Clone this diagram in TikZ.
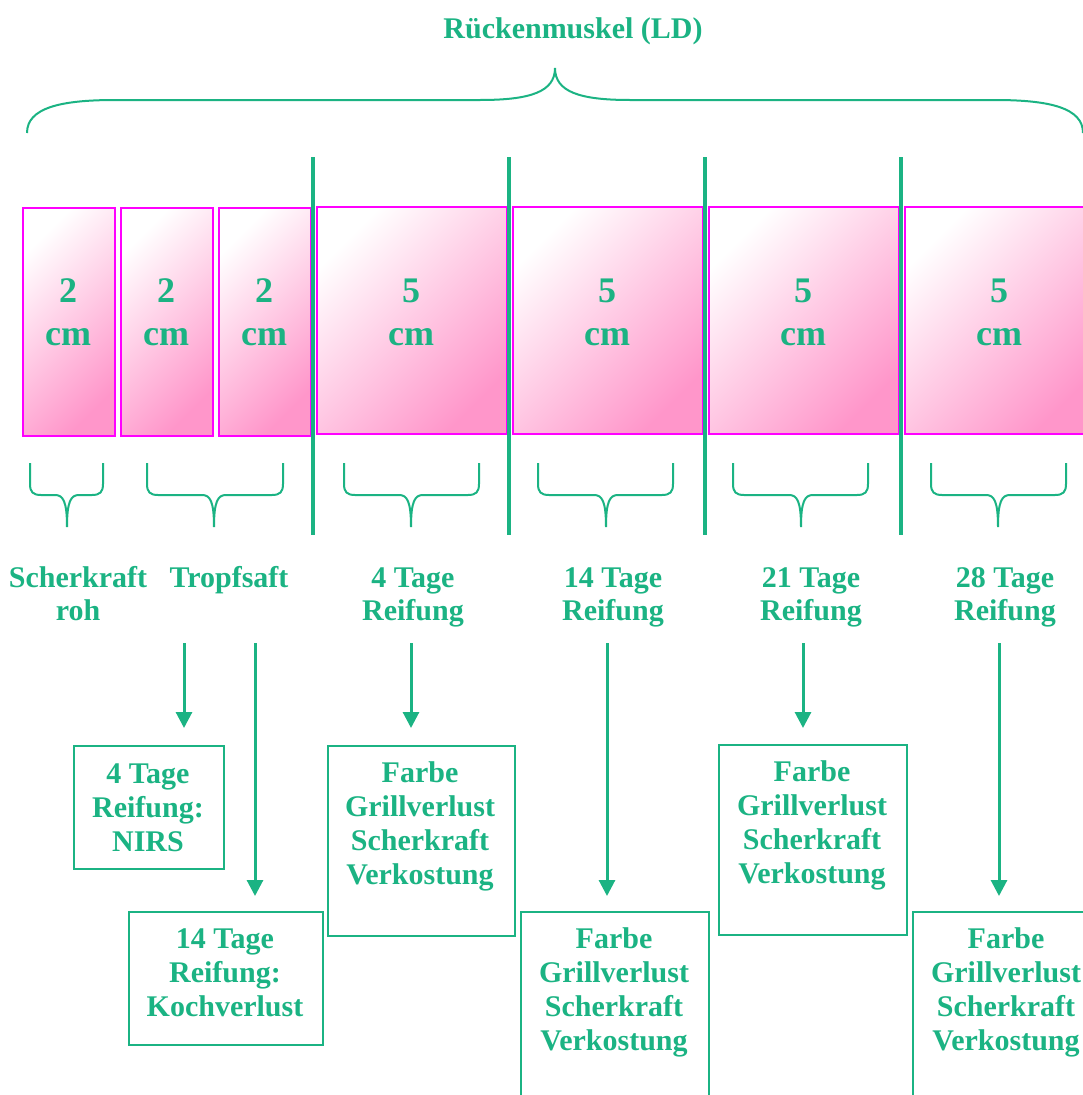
\documentclass[tikz,border=0pt]{standalone}
\usepackage{fontspec}
\setmainfont{Liberation Serif}[BoldFont={Liberation Serif Bold}]
\usetikzlibrary{arrows.meta}
\definecolor{grn}{RGB}{27,179,131}
\definecolor{pinkfill}{RGB}{255,150,202}
\definecolor{mag}{RGB}{255,0,255}
\tikzset{
  txt/.style={text=grn, font=\fontsize{30}{34}\selectfont\bfseries, align=center, inner sep=0pt, anchor=base},
  numtxt/.style={text=grn, font=\fontsize{36}{43}\selectfont\bfseries, align=center, inner sep=0pt, anchor=base},
  piece/.style={draw=mag, line width=2pt, top color=white, bottom color=pinkfill, shading angle=45, anchor=north west, inner sep=0pt},
  resbox/.style={draw=grn, line width=2pt, anchor=north west, inner sep=0pt},
  brace/.style={draw=grn, line width=2pt},
  divider/.style={draw=grn, line width=3.5pt},
  flow/.style={draw=grn, line width=3pt, -{Triangle[width=16pt,length=16pt]}},
}
\begin{document}
\begin{tikzpicture}[x=1pt,y=-1pt]
\useasboundingbox (0,0) rectangle (1083,1095);
\clip (0,0) rectangle (1083,1095);
% title
\node[txt] (title) at (573,38) {Rückenmuskel (LD)};
% big brace
\draw[brace] (27,133) .. controls (27,108) and (60,100) .. (115,100) -- (480,100)
  .. controls (530,100) and (555,92) .. (555,68)
  .. controls (555,92) and (580,100) .. (630,100) -- (995,100)
  .. controls (1050,100) and (1083,108) .. (1083,133);
% pieces
\node[piece, minimum width=92pt, minimum height=228pt] (p1) at (22,207) {};
\node[piece, minimum width=92pt, minimum height=228pt] (p2) at (120,207) {};
\node[piece, minimum width=92pt, minimum height=228pt] (p3) at (218,207) {};
\node[piece, minimum width=190pt, minimum height=227pt] (p4) at (316,206) {};
\node[piece, minimum width=190pt, minimum height=227pt] (p5) at (512,206) {};
\node[piece, minimum width=190pt, minimum height=227pt] (p6) at (708,206) {};
\node[piece, minimum width=190pt, minimum height=227pt] (p7) at (904,206) {};
\node[numtxt] (n1) at (68,345) {2\\cm};
\node[numtxt] (n2) at (166,345) {2\\cm};
\node[numtxt] (n3) at (264,345) {2\\cm};
\node[numtxt] (n4) at (411,345) {5\\cm};
\node[numtxt] (n5) at (607,345) {5\\cm};
\node[numtxt] (n6) at (803,345) {5\\cm};
\node[numtxt] (n7) at (999,345) {5\\cm};
% dividers
\coordinate (d1t) at (313,157); \coordinate (d1b) at (313,535);
\coordinate (d2t) at (509,157); \coordinate (d2b) at (509,535);
\coordinate (d3t) at (705,157); \coordinate (d3b) at (705,535);
\coordinate (d4t) at (901,157); \coordinate (d4b) at (901,535);
\draw[divider] (d1t) -- (d1b);
\draw[divider] (d2t) -- (d2b);
\draw[divider] (d3t) -- (d3b);
\draw[divider] (d4t) -- (d4b);
% small braces
\foreach \xa/\xb/\tc in {30/103/67, 147/283/214, 344/479/411, 538/673/606, 733/868/801, 931/1066/998}{
  \draw[brace] (\xa,463) -- (\xa,484) .. controls (\xa,492) and (\xa+3,495) .. (\xa+11,495)
    -- (\tc-12,495) .. controls (\tc-4,495) and (\tc,501) .. (\tc,527)
    .. controls (\tc,501) and (\tc+4,495) .. (\tc+12,495)
    -- (\xb-11,495) .. controls (\xb-3,495) and (\xb,492) .. (\xb,484) -- (\xb,463);
}
% labels
\tikzset{lbl/.style={txt, font=\fontsize{30}{33}\selectfont\bfseries}}
\node[lbl] (l1) at (78,620) {Scherkraft\\roh};
\node[lbl] (l2) at (229,587) {Tropfsaft};
\node[lbl] (l3) at (413,620) {4 Tage\\Reifung};
\node[lbl] (l4) at (613,620) {14 Tage\\Reifung};
\node[lbl] (l5) at (811,620) {21 Tage\\Reifung};
\node[lbl] (l6) at (1005,620) {28 Tage\\Reifung};
% result boxes
\node[resbox, minimum width=150pt, minimum height=123pt] (A) at (73,745) {};
\node[resbox, minimum width=194pt, minimum height=133pt] (B) at (128,911) {};
\node[resbox, minimum width=187pt, minimum height=190pt] (C) at (327,745) {};
\node[resbox, minimum width=188pt, minimum height=200pt] (D) at (520,911) {};
\node[resbox, minimum width=188pt, minimum height=190pt] (E) at (718,744) {};
\node[resbox, minimum width=188pt, minimum height=200pt] (F) at (912,911) {};
\node[txt] (tA) at (148,851) {4 Tage\\Reifung:\\NIRS};
\node[txt] (tB) at (225,1016) {14 Tage\\Reifung:\\Kochverlust};
\node[txt] (tC) at (420,884) {Farbe\\Grillverlust\\Scherkraft\\Verkostung};
\node[txt] (tD) at (614,1050) {Farbe\\Grillverlust\\Scherkraft\\Verkostung};
\node[txt] (tE) at (812,883) {Farbe\\Grillverlust\\Scherkraft\\Verkostung};
\node[txt] (tF) at (1006,1050) {Farbe\\Grillverlust\\Scherkraft\\Verkostung};
% arrows
\coordinate (s1) at (184,643);
\coordinate (s2) at (255,643);
\coordinate (s3) at (411,643);
\coordinate (s4) at (607,643);
\coordinate (s5) at (803,643);
\coordinate (s6) at (999,643);
\draw[flow, shorten >=17pt] (s1) -- (s1 |- A.north);
\draw[flow, shorten >=15pt] (s2) -- (s2 |- B.north);
\draw[flow, shorten >=17pt] (s3) -- (s3 |- C.north);
\draw[flow, shorten >=15pt] (s4) -- (s4 |- D.north);
\draw[flow, shorten >=16pt] (s5) -- (s5 |- E.north);
\draw[flow, shorten >=15pt] (s6) -- (s6 |- F.north);
\end{tikzpicture}
\end{document}
